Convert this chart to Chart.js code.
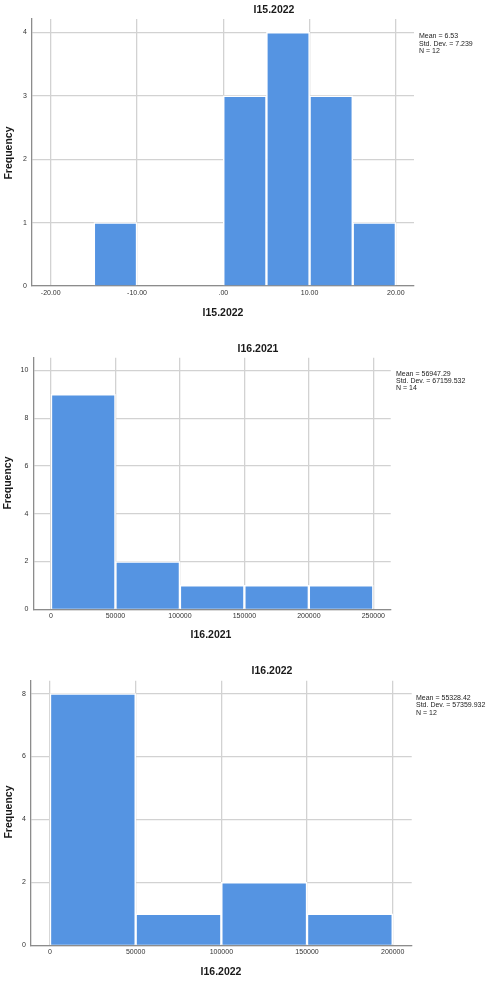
<!DOCTYPE html>
<html>
<head>
<meta charset="utf-8">
<script src="https://cdn.jsdelivr.net/npm/chart.js@4/dist/chart.umd.min.js"></script>
<style>
  body { margin: 0; background: #fff; width: 489px; height: 981px; position: relative; overflow: hidden; }
  canvas { position: absolute; left: 0; }
</style>
</head>
<body>
<canvas id="h1" width="489" height="320" style="top:0px"></canvas>
<canvas id="h2" width="489" height="330" style="top:320px"></canvas>
<canvas id="h3" width="489" height="331" style="top:650px"></canvas>
<script>
// I15.2022
const binCenters1 = [-12.5, 2.5, 7.5, 12.5, 17.5];
const counts1 = [1, 3, 4, 3, 1];
const xTicks1 = [-20, -10, 0, 10, 20];
const xTickLabels1 = ['-20.00', '-10.00', '.00', '10.00', '20.00'];
const yTicks1 = [0, 1, 2, 3, 4];
const stats1 = ['Mean = 6.53', 'Std. Dev. = 7.239', 'N = 12'];

// I16.2021
const binCenters2 = [25000, 75000, 125000, 175000, 225000];
const counts2 = [9, 2, 1, 1, 1];
const xTicks2 = [0, 50000, 100000, 150000, 200000, 250000];
const xTickLabels2 = ['0', '50000', '100000', '150000', '200000', '250000'];
const yTicks2 = [0, 2, 4, 6, 8, 10];
const stats2 = ['Mean = 56947.29', 'Std. Dev. = 67159.532', 'N = 14'];

// I16.2022
const binCenters3 = [25000, 75000, 125000, 175000];
const counts3 = [8, 1, 2, 1];
const xTicks3 = [0, 50000, 100000, 150000, 200000];
const xTickLabels3 = ['0', '50000', '100000', '150000', '200000'];
const yTicks3 = [0, 2, 4, 6, 8];
const stats3 = ['Mean = 55328.42', 'Std. Dev. = 57359.932', 'N = 12'];

const FONT = '"Liberation Sans", Arial, sans-serif';
const BAR = '#5594e2';
const GRID = '#d2d2d2';
const AXIS = '#8c8c8c';

// titles, axis titles and the stats box, placed by hand like SPSS does
const spssText = {
  id: 'spssText',
  afterDraw(chart, args, o) {
    const ctx = chart.ctx;
    ctx.save();
    ctx.fillStyle = '#1a1a1a';
    ctx.textAlign = 'center';
    ctx.textBaseline = 'middle';
    ctx.font = 'bold 10.5px ' + FONT;
    ctx.fillText(o.title, o.titleX, o.titleY);
    ctx.fillText(o.title, o.xTitleX, o.xTitleY);
    ctx.translate(o.yTitleX, o.yTitleY);
    ctx.rotate(-Math.PI / 2);
    ctx.fillText('Frequency', 0, 0);
    ctx.restore();

    ctx.save();
    ctx.fillStyle = '#222';
    ctx.textAlign = 'left';
    ctx.textBaseline = 'middle';
    ctx.font = '7px ' + FONT;
    o.stats.forEach((s, i) => ctx.fillText(s, o.statsX, o.statsY + i * 7.2));
    ctx.restore();
  }
};

function histogram(id, c) {
  const canvas = document.getElementById(id);
  const W = canvas.width, H = canvas.height;
  new Chart(canvas, {
    type: 'bar',
    data: {
      datasets: [{
        data: c.centers.map((x, i) => ({ x: x, y: c.counts[i] })),
        backgroundColor: BAR,
        borderColor: '#ffffff',
        borderWidth: 1.5,
        borderSkipped: 'start',
        barPercentage: 1,
        categoryPercentage: 1
      }]
    },
    options: {
      responsive: false,
      animation: false,
      events: [],
      layout: { padding: { left: 0, top: c.area[1], right: W - c.area[2], bottom: 0 } },
      plugins: {
        legend: { display: false },
        tooltip: { enabled: false },
        spssText: c.text
      },
      scales: {
        x: {
          type: 'linear',
          offset: false,
          min: c.xMin,
          max: c.xMax,
          afterBuildTicks: s => { s.ticks = c.xTicks.map(v => ({ value: v })); },
          afterFit: s => { s.height = H - c.area[3]; },
          ticks: {
            autoSkip: false, maxRotation: 0, padding: 3, color: '#333',
            font: { size: 7, family: FONT },
            callback: (v, i) => c.xLabels[i]
          },
          grid: { color: GRID, lineWidth: 1.3, drawTicks: false, offset: false },
          border: { color: AXIS, width: 1.3 }
        },
        y: {
          min: 0,
          max: c.yMax,
          afterBuildTicks: s => { s.ticks = c.yTicks.map(v => ({ value: v })); },
          afterFit: s => { s.width = c.area[0]; },
          ticks: {
            padding: 5, color: '#333',
            font: { size: 7, family: FONT }
          },
          grid: { color: GRID, lineWidth: 1.3, drawTicks: false },
          border: { color: AXIS, width: 1.3 }
        }
      }
    },
    plugins: [spssText]
  });
}

histogram('h1', {
  centers: binCenters1, counts: counts1,
  xTicks: xTicks1, xLabels: xTickLabels1, yTicks: yTicks1,
  xMin: -22.17, xMax: 22.1, yMax: 4.21,
  area: [32, 19, 414, 286],
  text: { title: 'I15.2022', titleX: 274, titleY: 10, xTitleX: 223, xTitleY: 313,
          yTitleX: 9, yTitleY: 153, stats: stats1, statsX: 419, statsY: 36.5 }
});

histogram('h2', {
  centers: binCenters2, counts: counts2,
  xTicks: xTicks2, xLabels: xTickLabels2, yTicks: yTicks2,
  xMin: -13720, xMax: 263490, yMax: 10.53,
  area: [33.3, 37.7, 390.7, 289.3],
  text: { title: 'I16.2021', titleX: 258, titleY: 29, xTitleX: 211, xTitleY: 315,
          yTitleX: 8.5, yTitleY: 163, stats: stats2, statsX: 396, statsY: 54 }
});

histogram('h3', {
  centers: binCenters3, counts: counts3,
  xTicks: xTicks3, xLabels: xTickLabels3, yTicks: yTicks3,
  xMin: -11085, xMax: 211085, yMax: 8.41,
  area: [31, 30.7, 411.7, 295.3],
  text: { title: 'I16.2022', titleX: 272, titleY: 21.5, xTitleX: 221, xTitleY: 322,
          yTitleX: 9, yTitleY: 162, stats: stats3, statsX: 416, statsY: 48.3 }
});
</script>
</body>
</html>
